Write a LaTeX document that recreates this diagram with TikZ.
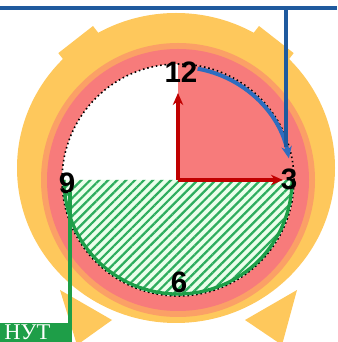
\documentclass[tikz,border=0pt]{standalone}
\usepackage{fontspec}
\setmainfont{Liberation Serif}
\newfontfamily\numfont{Liberation Sans}
\usepackage{xcolor}
\usetikzlibrary{arrows.meta, patterns.meta, positioning, calc}

\definecolor{bodyyellow}{HTML}{FEC85C}
\definecolor{ringorange}{HTML}{FBA066}
\definecolor{ringpink}{HTML}{F77B7B}
\definecolor{handred}{HTML}{C00000}
\definecolor{pathblue}{HTML}{2E6DBF}
\definecolor{barblue}{HTML}{1F5A9E}
\definecolor{halfgreen}{HTML}{1E9E48}
\definecolor{hatchgreen}{HTML}{2EAD5E}

\begin{document}
\begin{tikzpicture}[
  x=0.025cm, y=0.025cm,
  numlbl/.style={font=\numfont\bfseries\fontsize{21}{21}\selectfont, inner sep=0pt},
  tag/.style={fill=halfgreen, text=white, inner xsep=3pt, inner ysep=0pt, text depth=0.07cm, text height=0.405cm,
    text width=1.59cm, align=left, font=\fontsize{16}{16}\selectfont},
  hand/.style={-{Stealth[length=3mm, width=2.6mm]}, line width=1.1mm, draw=handred},
  sweep/.style={-{Stealth[length=3mm, width=2.6mm]}, line width=1mm, draw=pathblue},
  bar/.style={line width=0.8mm, draw=barblue},
  lead/.style={line width=0.8mm, draw=halfgreen}
]

  \useasboundingbox (0,0) rectangle (337,342);

  \coordinate (yc) at (176,174);
  \coordinate (C) at (178,162);

  % body of the clock
  \fill[bodyyellow] (112,22) -- (60,52) -- (77,-3) -- cycle;
  \fill[bodyyellow] (245,22) -- (297,52) -- (282,-3) -- cycle;
  \fill[bodyyellow, rotate around={38:(yc)}] ($(yc)+(-22,128)$) rectangle ($(yc)+(22,163)$);
  \fill[bodyyellow, rotate around={-38:(yc)}] ($(yc)+(-22,128)$) rectangle ($(yc)+(22,163)$);
  \fill[bodyyellow] (yc) ellipse [x radius=159, y radius=155];
  \fill[ringorange] (C) circle [radius=137];
  \fill[ringpink] (C) circle [radius=131];

  % face
  \fill[white] (C) circle [radius=116];
  \fill[ringpink] (C) -- ++(0:116) arc[start angle=0, end angle=90, radius=116] -- cycle;
  \fill[green!8] (C) ++(180:116) arc[start angle=180, end angle=360, radius=116] -- cycle;
  \fill[pattern={Lines[angle=45, distance=4.5pt, line width=1.6pt]}, pattern color=hatchgreen]
    (C) ++(180:116) arc[start angle=180, end angle=360, radius=116] -- cycle;
  \draw[dotted, line width=0.4mm] (C) circle [radius=116];
  \draw[lead] (C) ++(180:114) arc[start angle=180, end angle=360, radius=114];

  \node[numlbl] (twelve) at (181,270) {12};
  \node[numlbl] (three) at (289,163) {3};
  \node[numlbl] (six) at (179,60) {6};
  \node[numlbl] (nine) at (67,159) {9};

  \coordinate (up) at (178,249);
  \coordinate (right) at (283,162);
  \draw[hand] (C) -- (up);
  \draw[hand] (C) -- (right);

  \draw[sweep] (C) ++(80:113) arc[start angle=80, end angle=11, radius=113];
  \coordinate (bj) at ($(C)+(17:113)$);

  \coordinate (tl) at (0,334);
  \coordinate (tr) at (337,334);
  \draw[bar] (tl) -- (tr);
  \draw[bar] (bj |- tl) -- (bj);

  \node[tag, anchor=base west] (lbl) at (0,2.8) {НУТ};
  \coordinate (gj) at (70,150);
  \draw[lead] (gj) -- (gj |- lbl.north);

\end{tikzpicture}
\end{document}
